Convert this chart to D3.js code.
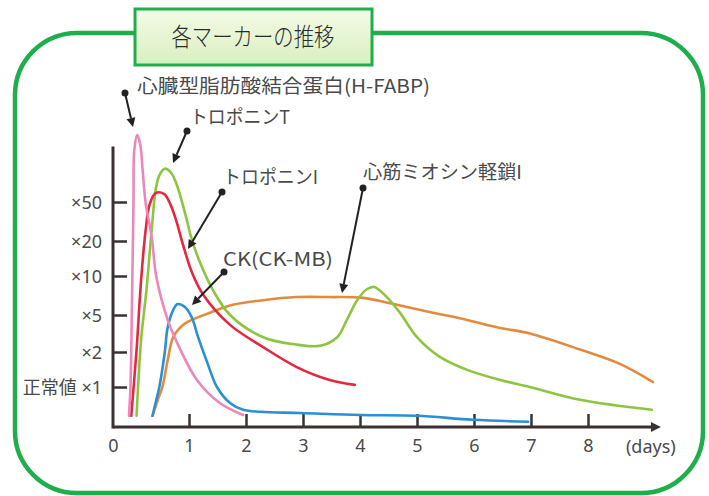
<!DOCTYPE html>
<html>
<head>
<meta charset="utf-8">
<title>各マーカーの推移</title>
<style>
  html, body { margin: 0; padding: 0; background: #fff; }
  svg { display: block; }
</style>
</head>
<body>
<svg id="svg" width="709" height="496"></svg>
<script src="https://cdn.jsdelivr.net/npm/d3@7"></script>
<script>
// tick values
const dayTicks = [0, 1, 2, 3, 4, 5, 6, 7, 8];
const foldTicks = [1, 2, 5, 10, 20, 50];
const foldLabels = ['正常値 ×1', '×2', '×5', '×10', '×20', '×50'];

// series values (days after onset, multiple of normal)
const hfabpDays = [0.21, 0.23, 0.25, 0.27, 0.28, 0.32, 0.36, 0.39, 0.43, 0.51, 0.57, 0.72, 0.84, 1.14, 1.54, 1.95];
const hfabpFold = [0.28, 1, 6.9, 53, 140, 181, 154, 93, 49, 23, 9.9, 4.6, 2.8, 1.2, 0.6, 0.3];

const tntDays = [0.31, 0.37, 0.44, 0.48, 0.52, 0.56, 0.61, 0.68, 0.76, 0.84, 0.95, 1.05, 1.19, 1.42, 1.72, 2.3, 2.89, 3.3, 3.6, 3.77, 3.95, 4.12, 4.25, 4.47, 4.7, 5.0, 5.4, 5.88, 6.46, 6.98, 7.86, 9.12];
const tntFold = [0.28, 3.0, 8.2, 16, 36, 66, 86, 95, 90, 73, 41, 21, 14, 8.2, 5, 3.2, 2.6, 2.5, 3.2, 4.6, 6.9, 8.3, 8.6, 7.3, 5.3, 3.2, 1.86, 1.49, 1.2, 1.0, 0.68, 0.43];

const tniDays = [0.24, 0.31, 0.37, 0.43, 0.48, 0.56, 0.67, 0.75, 0.83, 0.92, 1.05, 1.25, 1.72, 2.3, 2.89, 3.47, 3.91];
const tniFold = [0.28, 2.16, 9.5, 28.5, 47.7, 62, 61, 49, 36, 19, 11.1, 7.6, 4.2, 2.4, 1.57, 1.2, 1.06];

const ckDays = [0.52, 0.57, 0.61, 0.68, 0.72, 0.79, 0.85, 0.95, 1.05, 1.16, 1.32, 1.49, 1.72, 1.95, 2.25, 2.95, 4, 5, 5.98, 6.95];
const ckFold = [0.28, 0.68, 1, 1.97, 4.0, 5.6, 6.4, 6.0, 4.8, 3.2, 1.7, 1.0, 0.6, 0.43, 0.38, 0.35, 0.3, 0.28, 0.18, 0.13];

const mlcDays = [0.52, 0.59, 0.65, 0.72, 0.79, 0.88, 0.97, 1.37, 1.77, 2.3, 2.89, 3.47, 4.05, 4.53, 5.28, 5.88, 6.46, 6.98, 7.86, 8.56, 9.14];
const mlcFold = [0.28, 0.68, 1, 1.77, 3.2, 3.95, 4.4, 5.3, 6.3, 6.9, 7.3, 7.3, 7.2, 6.5, 5.3, 4.6, 3.95, 3.5, 2.2, 1.66, 1.14];

const series = [
  { name: '心筋ミオシン軽鎖I', days: mlcDays, fold: mlcFold, color: '#e38a3e' },
  { name: 'トロポニンT', days: tntDays, fold: tntFold, color: '#8cc63f' },
  { name: 'トロポニンI', days: tniDays, fold: tniFold, color: '#e5283f' },
  { name: 'CK(CK-MB)', days: ckDays, fold: ckFold, color: '#2b8fd2' },
  { name: 'H-FABP', days: hfabpDays, fold: hfabpFold, color: '#ec87b9' }
];

// callout labels: text, text start, dot, arrow tip (layout in px)
const callouts = [
  { text: '心臓型脂肪酸結合蛋白(H-FABP)', tx: 137, ty: 93, len: 293, dot: [125, 93], tip: [133, 127] },
  { text: 'トロポニンT', tx: 190, ty: 124, len: 100, dot: [187, 131], tip: [173, 163] },
  { text: 'トロポニンI', tx: 223, ty: 184, len: 95, dot: [222, 192], tip: [188, 249] },
  { text: 'CK(CK-MB)', tx: 223, ty: 266, len: 110, dot: [224, 272], tip: [192, 305] },
  { text: '心筋ミオシン軽鎖I', tx: 363, ty: 179, len: 159, dot: [363, 188], tip: [342, 293] }
];

const svg = d3.select('#svg');
const green = '#1fae4c';
const axisColor = '#3a3232';
const textColor = '#4a4a4a';

const x = d3.scaleLinear().domain([0, 1, 8]).range([113, 189, 588]);
const y = d3.scaleLinear()
  .domain([0, 1, 2, 5, 10, 20, 50, 100, 200])
  .range([427, 387, 352, 315, 276, 241, 202, 165, 128]);

const xEnd = 9.28;
const yTop = 150;

// frame
svg.append('rect')
  .attr('x', 15).attr('y', 33)
  .attr('width', 688).attr('height', 460)
  .attr('rx', 62).attr('ry', 62)
  .attr('fill', '#fff')
  .attr('stroke', green)
  .attr('stroke-width', 4.5);

// title box
const grad = svg.append('defs').append('linearGradient')
  .attr('id', 'tg').attr('x1', 0).attr('y1', 0).attr('x2', 0).attr('y2', 1);
grad.append('stop').attr('offset', '0%').attr('stop-color', '#f4fbe8');
grad.append('stop').attr('offset', '100%').attr('stop-color', '#d8efbf');

svg.append('rect')
  .attr('x', 135).attr('y', 9)
  .attr('width', 237).attr('height', 56)
  .attr('fill', 'url(#tg)')
  .attr('stroke', green)
  .attr('stroke-width', 3);

svg.append('text')
  .attr('x', 253).attr('y', 46)
  .attr('text-anchor', 'middle')
  .attr('font-family', '"Noto Sans CJK JP", sans-serif')
  .attr('font-size', 25)
  .attr('font-weight', 300)
  .attr('textLength', 163)
  .attr('lengthAdjust', 'spacingAndGlyphs')
  .attr('fill', '#2a2a2a')
  .text('各マーカーの推移');

// axes
const yAxis = d3.axisLeft(y)
  .tickValues(foldTicks)
  .tickFormat((d, i) => foldLabels[i])
  .tickSizeInner(-14)
  .tickSizeOuter(0)
  .tickPadding(11);

const yg = svg.append('g')
  .attr('transform', `translate(${x(0)}, 0)`)
  .call(yAxis);

const xAxis = d3.axisBottom(x)
  .tickValues(dayTicks)
  .tickSizeInner(-13)
  .tickSizeOuter(0)
  .tickPadding(12);

const xg = svg.append('g')
  .attr('transform', `translate(0, ${y(0)})`)
  .call(xAxis);

xg.selectAll('.tick line').filter((d) => d === 0).remove();

[yg, xg].forEach((g) => {
  g.select('.domain').remove();
  g.selectAll('.tick line').attr('stroke', axisColor).attr('stroke-width', 2.5);
  g.selectAll('.tick text')
    .attr('fill', textColor)
    .attr('font-family', '"Noto Sans", "Noto Sans CJK JP", sans-serif')
    .attr('font-size', 18);
});
yg.selectAll('.tick text').attr('dy', '0.38em');

svg.append('line')
  .attr('x1', x(0)).attr('x2', x(0))
  .attr('y1', y(yTop)).attr('y2', y(0) + 1.5)
  .attr('stroke', axisColor).attr('stroke-width', 3);

svg.append('line')
  .attr('x1', x(0)).attr('x2', x(xEnd) - 6)
  .attr('y1', y(0)).attr('y2', y(0))
  .attr('stroke', axisColor).attr('stroke-width', 3);

svg.append('path')
  .attr('d', `M${x(xEnd)},${y(0)} L${x(xEnd) - 10},${y(0) - 5} L${x(xEnd) - 10},${y(0) + 5} Z`)
  .attr('fill', axisColor);

svg.append('text')
  .attr('x', x(xEnd) - 35).attr('y', y(0) + 26)
  .attr('text-anchor', 'start')
  .attr('font-family', '"Noto Sans", sans-serif')
  .attr('font-size', 18)
  .attr('fill', textColor)
  .text('(days)');

// curves
const line = d3.line()
  .x((d) => x(d[0]))
  .y((d) => y(d[1]))
  .curve(d3.curveCatmullRom.alpha(0.5));

svg.append('g')
  .selectAll('path')
  .data(series)
  .enter()
  .append('path')
  .attr('d', (s) => line(d3.zip(s.days, s.fold)))
  .attr('fill', 'none')
  .attr('stroke', (s) => s.color)
  .attr('stroke-width', 2.6)
  .attr('stroke-linecap', 'round')
  .attr('stroke-linejoin', 'round');

// callouts
const cg = svg.append('g');
callouts.forEach((c) => {
  const dx = c.tip[0] - c.dot[0];
  const dy = c.tip[1] - c.dot[1];
  const L = Math.hypot(dx, dy);
  const ux = dx / L, uy = dy / L;
  const head = 9, half = 4.5;
  const bx = c.tip[0] - ux * head, by = c.tip[1] - uy * head;

  cg.append('line')
    .attr('x1', c.dot[0]).attr('y1', c.dot[1])
    .attr('x2', bx).attr('y2', by)
    .attr('stroke', '#222').attr('stroke-width', 2);
  cg.append('path')
    .attr('d', `M${c.tip[0]},${c.tip[1]} L${bx - uy * half},${by + ux * half} L${bx + uy * half},${by - ux * half} Z`)
    .attr('fill', '#222');
  cg.append('circle')
    .attr('cx', c.dot[0]).attr('cy', c.dot[1]).attr('r', 3.5)
    .attr('fill', '#222');
  cg.append('text')
    .attr('x', c.tx).attr('y', c.ty)
    .attr('font-family', '"Noto Sans CJK JP", sans-serif')
    .attr('font-size', 19)
    .attr('textLength', c.len)
    .attr('lengthAdjust', 'spacingAndGlyphs')
    .attr('fill', textColor)
    .text(c.text);
});
</script>
</body>
</html>
